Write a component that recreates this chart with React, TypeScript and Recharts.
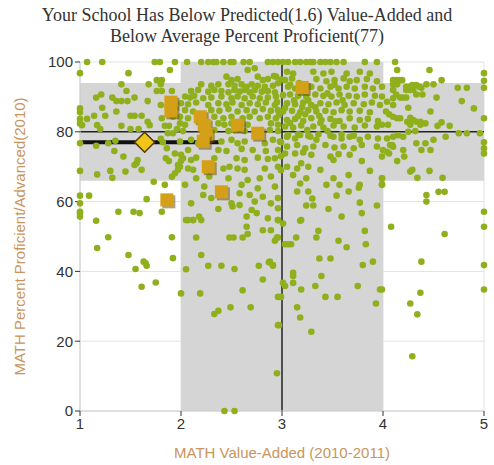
import React from 'react';
import {
  CartesianGrid,
  ReferenceArea,
  ReferenceLine,
  Scatter,
  ScatterChart,
  XAxis,
  YAxis,
} from 'recharts';

// ticks
const xTicks = [1, 2, 3, 4, 5];
const yTicks = [0, 20, 40, 60, 80, 100];

// shaded bands: [x1, x2, y1, y2]
const predictedBand = [1, 5, 66, 94];
const averageBand = [2, 4, 0, 100];

// crosshair (state averages)
const avgValueAdded = 3;
const avgProficient = 80;

// your school
const schoolPoint = [{ x: 1.64, y: 77 }];
const schoolRange = [1.02, 2.38];

// similar schools (orange squares)
const similarSchools = [
  [1.9, 88.5], [1.9, 86], [2.19, 84.3], [2.23, 81.9], [2.25, 79.3], [2.22, 77.3],
  [2.27, 70], [2.4, 62.8], [2.56, 81.9], [2.76, 79.6], [3.2, 92.7], [1.86, 60.5],
];

// all schools
const topRow = [
  [1.07, 100], [1.22, 100], [1.74, 100], [1.79, 100], [1.94, 100], [2.06, 100], [2.2, 100],
  [2.27, 100], [2.32, 100], [2.35, 100], [2.42, 100], [2.49, 100], [2.52, 100], [2.62, 100],
  [2.68, 100], [2.86, 100], [2.91, 100], [2.96, 100], [3.01, 100], [3.06, 100], [3.13, 100],
  [3.18, 100], [3.24, 100], [3.28, 100], [3.31, 100], [3.38, 100], [3.43, 100], [3.48, 100],
  [3.54, 100], [3.61, 100], [3.82, 100], [3.94, 100], [4.12, 100],
];

const leftSchools = [
  [1.0, 96.8], [1.48, 96.8], [1.89, 97.7], [1.76, 94.8], [1.81, 94.8], [1.8, 93.6], [1.41, 93.6],
  [1.68, 93.6], [1.46, 91.7], [1.76, 91.7], [1.81, 91.7], [1.91, 91.7], [1.21, 90.7], [1.16, 89.8],
  [1.32, 89.8], [1.36, 88.8], [1.41, 88.8], [1.47, 88.8], [1.54, 89.8], [1.67, 88.8], [1.8, 87.7],
  [1.22, 86.9], [1.0, 86.7], [1.0, 85.6], [1.36, 85.8], [1.14, 84.6], [1.07, 83.7], [1.25, 84.6],
  [1.5, 84.6], [1.54, 84.6], [1.61, 84.6], [1.0, 83.7], [1.0, 82.4], [1.67, 82.9], [1.69, 81.9],
  [1.81, 83.9], [1.92, 84.3], [1.99, 82.4], [1.02, 81.9], [1.17, 81.9], [1.2, 80.8], [1.41, 81.7],
  [1.5, 80.8], [1.58, 80.8], [1.84, 81.7], [1.88, 81.7], [1.87, 79.6], [1.92, 79.6], [1.96, 80.8],
  [1.0, 76.7], [1.16, 76], [1.28, 76.7], [1.35, 77.4], [1.8, 78], [1.82, 77], [1.86, 75.3],
  [1.94, 73.8], [1.34, 74.5], [1.43, 72.9], [1.57, 71.9], [1.54, 70.5], [1.56, 71], [1.85, 72.4],
  [1.88, 71.6], [2.0, 73.4], [2.0, 71.6], [1.97, 70.5], [1.0, 68.8], [1.17, 67.8], [1.3, 68.8],
  [1.32, 66.8], [1.45, 68.6], [1.61, 69.1], [1.73, 65.7], [1.91, 67.1], [1.94, 68.1], [1.97, 69.1],
  [1.84, 64.8], [1.0, 61.7], [1.09, 61.7], [1.66, 60.7], [1.0, 59.5], [1.0, 57.1], [1.38, 57.1],
  [1.53, 57.1], [1.81, 57.1], [1.0, 56.7], [1.0, 55.7], [1.59, 56.7],
  [1.16, 54.5], [1.17, 46.7], [1.28, 49.8], [1.48, 44.7], [1.55, 40.7], [1.63, 42.8], [1.65, 42.3],
  [1.66, 41.6], [1.61, 35.6], [1.75, 36.8], [1.91, 49.8], [1.92, 43.8],
];

const centerLeftUpper = [
  [2.66, 97.7], [2.73, 98.2], [2.45, 95.8], [2.5, 94.8], [2.56, 95.1], [2.76, 95.8], [2.81, 94.8],
  [2.86, 95.1], [2.94, 95.8], [2.2, 93.6], [2.3, 93.2], [2.37, 93.6], [2.47, 93.6], [2.53, 93.2],
  [2.6, 93.6], [2.65, 92.9], [2.7, 93.6], [2.76, 93.2], [2.83, 92.9], [2.91, 93.2], [2.96, 93.9],
  [2.1, 91.7], [2.17, 92], [2.27, 91.5], [2.33, 92], [2.4, 91.7], [2.47, 91.3], [2.53, 92],
  [2.58, 91.5], [2.63, 92], [2.68, 91.3], [2.73, 92], [2.8, 91.5], [2.86, 91.7], [2.93, 91.3],
  [2.04, 90.1], [2.09, 89.8], [2.13, 90.3], [2.22, 89.6], [2.3, 89.8], [2.4, 90.1], [2.5, 89.6],
  [2.56, 90.1], [2.63, 89.6], [2.71, 90.1], [2.78, 89.6], [2.86, 89.8], [2.94, 90.1],
  [2.0, 88.2], [2.07, 87.9], [2.15, 88.4], [2.27, 87.7], [2.37, 88.2], [2.45, 87.9], [2.51, 88.4],
  [2.6, 87.7], [2.68, 88.2], [2.76, 87.9], [2.84, 88.4], [2.93, 87.7],
  [2.04, 86.2], [2.12, 85.8], [2.3, 86.2], [2.38, 86], [2.47, 86.5], [2.56, 85.8], [2.65, 86.2],
  [2.73, 85.8], [2.81, 86.5], [2.89, 86], [2.96, 86.2],
  [1.99, 84.3], [2.07, 83.9], [2.33, 84.3], [2.42, 83.9], [2.5, 84.3], [2.61, 83.9], [2.68, 84.3],
  [2.78, 83.9], [2.86, 84.3], [2.94, 83.9],
  [2.04, 82], [2.37, 82.4], [2.43, 82], [2.5, 82.4], [2.66, 82], [2.89, 82.4], [2.96, 82],
  [2.02, 80.2], [2.33, 80.5], [2.47, 80.2], [2.53, 80.5], [2.63, 80.2], [2.88, 80.5], [2.96, 80.2],
];

const centerLeftLower = [
  [1.99, 77.2], [2.1, 77.7], [2.17, 76.7], [2.4, 77.2], [2.5, 77.7], [2.56, 76.7], [2.63, 77.2],
  [2.83, 76.7], [2.91, 77.7], [2.98, 77.2],
  [2.07, 74.8], [2.37, 74.8], [2.45, 74.5], [2.6, 75.1], [2.71, 74.8], [2.84, 74.5], [2.96, 74.8],
  [2.02, 72.4], [2.1, 71.9], [2.15, 72.6], [2.33, 72.4], [2.55, 72.4], [2.63, 71.9], [2.76, 72.6],
  [2.86, 72.2], [2.93, 72.4],
  [1.99, 70], [2.07, 69.5], [2.12, 69.1], [2.42, 69.5], [2.48, 70], [2.56, 69.5], [2.63, 69.1],
  [2.83, 69.5], [2.96, 70],
  [2.15, 66.7], [2.28, 67.2], [2.47, 66.7], [2.66, 66.2], [2.78, 66.7], [2.89, 67.2],
  [2.04, 64.8], [2.23, 64.3], [2.6, 64.8], [2.76, 63.8], [2.93, 64.3],
  [2.22, 61.9], [2.3, 61], [2.58, 62.4], [2.68, 61.9], [2.81, 61.4], [2.96, 61],
  [2.1, 59.5], [2.5, 59.5], [2.58, 59], [2.73, 60], [2.89, 59.5],
  [2.37, 57.9], [2.51, 58.6], [2.7, 57.6], [2.96, 58.1],
  [2.07, 54.7], [2.12, 54.7], [2.18, 55.7], [2.65, 55.7], [2.75, 56.7], [2.86, 55.2], [2.96, 54.7],
  [2.99, 77], [2.99, 73], [2.99, 69],
];

const centerRightUpper = [
  [3.05, 97.2], [3.11, 96.7], [3.31, 97.2], [3.41, 96.7], [3.49, 97.2], [3.64, 96.7], [3.77, 97.2],
  [3.87, 96.7],
  [3.03, 94.8], [3.1, 95.3], [3.34, 95.1], [3.44, 94.5], [3.52, 94.8], [3.61, 95.3], [3.67, 94.5],
  [3.74, 94.8], [3.84, 95.1], [3.94, 94.5],
  [3.06, 92.9], [3.13, 92.4], [3.29, 92.9], [3.38, 92.4], [3.48, 92.9], [3.56, 92.4], [3.64, 92.9],
  [3.72, 92.4], [3.82, 92.9], [3.9, 92.4], [3.99, 92.9],
  [3.01, 90.5], [3.08, 90.7], [3.16, 90.3], [3.24, 90.1], [3.33, 90.7], [3.41, 90.3], [3.49, 90.1],
  [3.57, 90.7], [3.66, 90.3], [3.74, 90.1], [3.82, 90.7], [3.92, 90.3], [3.99, 90.1],
  [3.05, 88.2], [3.13, 87.9], [3.21, 88.4], [3.29, 87.7], [3.38, 88.2], [3.46, 87.9], [3.54, 88.4],
  [3.62, 87.7], [3.71, 88.2], [3.81, 87.9], [3.89, 88.4], [3.97, 87.7],
  [3.01, 85.8], [3.1, 86], [3.18, 85.6], [3.26, 86.2], [3.34, 85.8], [3.43, 86], [3.51, 85.6],
  [3.59, 86.2], [3.67, 85.8], [3.77, 86], [3.87, 85.6],
  [3.05, 83.4], [3.13, 83.7], [3.21, 83.1], [3.29, 83.9], [3.39, 83.4], [3.48, 83.7], [3.57, 83.1],
  [3.67, 83.9], [3.77, 83.4], [3.85, 83.7], [3.95, 83.1],
  [3.03, 81.5], [3.11, 81.2], [3.19, 81.8], [3.31, 81.5], [3.41, 81.2], [3.51, 81.8], [3.61, 81.5],
  [3.72, 81.2], [3.82, 81.8], [3.94, 81.5],
  [3.06, 79.1], [3.16, 79.3], [3.26, 78.9], [3.36, 79.3], [3.48, 78.9], [3.59, 79.3], [3.71, 78.9],
  [2.92, 96], [2.99, 95], [3.08, 93.5], [3.17, 94], [3.22, 91.5], [3.27, 93], [3.12, 89],
  [3.2, 87], [3.26, 89], [3.33, 87], [3.16, 84.5], [3.23, 85], [3.37, 84.5], [3.08, 82.5],
  [3.25, 80.5], [3.38, 82.5], [3.45, 80.2], [3.53, 83], [3.45, 91], [3.52, 93.5], [3.6, 89],
  [3.03, 86.8], [2.95, 88.5], [2.97, 84.8],
];

const centerRightLower = [
  [3.05, 78.6], [3.13, 78.1], [3.18, 79.1], [3.28, 78.6], [3.34, 77.7], [3.51, 78.6], [3.59, 78.1],
  [3.67, 78.6], [3.77, 77.7], [3.85, 78.6], [3.95, 78.1],
  [3.05, 75.8], [3.15, 76.2], [3.23, 75.3], [3.31, 75.8], [3.43, 76.2], [3.52, 75.5], [3.61, 75.8],
  [3.71, 75.3], [3.79, 76.2], [3.94, 75.8],
  [3.03, 73.8], [3.13, 73.8], [3.21, 74.1], [3.29, 73.4], [3.48, 72.9], [3.56, 73.6], [3.67, 73.4],
  [3.79, 71.6], [3.87, 68.8], [3.99, 66.7], [3.99, 64.8],
  [3.05, 70], [3.15, 69.5], [3.19, 71], [3.26, 70], [3.38, 69.1], [3.51, 71.9], [3.11, 67.6],
  [3.18, 65.2], [3.24, 66.7], [3.44, 64.8], [3.51, 66.7], [3.57, 64.8], [3.66, 67.6], [3.77, 64.8],
  [3.66, 62.9], [3.54, 61.7], [3.76, 64], [3.15, 62.9], [3.26, 62.9], [3.3, 60.9], [3.24, 58.9],
  [3.31, 58.9], [3.46, 57.9], [3.59, 55.7], [3.77, 59.7], [3.94, 58.9], [3.79, 56.7], [3.19, 54.7],
];

const lowerSchools = [
  [2.05, 54.7], [2.12, 54.7], [2.2, 54.7], [2.15, 49.7], [2.2, 44.7], [2.05, 40.6], [2.0, 33.7],
  [2.19, 33.7], [2.27, 41.6], [2.4, 41.6], [2.53, 40.7], [2.48, 49.7], [2.52, 49.7], [2.61, 49.7],
  [2.66, 50.7], [2.65, 52.8], [2.81, 51.8], [2.89, 51.8], [2.95, 49.7], [2.61, 34.6], [2.49, 29.7],
  [2.69, 29.7], [2.33, 27.8], [2.37, 28.7], [2.77, 41.6], [2.87, 42.6], [2.91, 41.6], [2.81, 37.7],
  [2.96, 32.7], [2.96, 24.6], [2.95, 10.8], [2.43, 0], [2.53, 0],
  [2.96, 54.7], [3.01, 53.7], [3.18, 54.5], [3.36, 51.6], [3.34, 49.7], [3.82, 51.6], [3.83, 47.8],
  [3.56, 48.8], [3.64, 46.9], [3.14, 49.7], [2.93, 48.8], [2.96, 49.7], [3.03, 47.8], [3.06, 47.8],
  [3.09, 47.8], [2.88, 42.8], [2.91, 41.8], [3.37, 43.7], [3.48, 43.7], [3.8, 41.8], [3.9, 42.8],
  [3.11, 39.6], [3.11, 38.7], [3.39, 38.7], [3.01, 36.7], [3.03, 35.8], [3.11, 36.7], [3.19, 34.8],
  [3.33, 35.8], [3.75, 35.8], [2.99, 32.7], [3.43, 32.7], [3.55, 32.7], [3.93, 30.8], [3.15, 29.7],
  [3.18, 26.8], [2.97, 24.6], [3.29, 22.7],
];

const rightSchools = [
  [4.14, 97.7], [4.46, 97.7], [5.0, 96.8], [5.0, 94.6], [5.0, 92.6], [4.58, 94.8], [4.5, 93.6],
  [4.43, 93.6], [4.74, 92.6], [4.83, 92.6], [4.53, 89.8], [4.78, 88.8], [4.9, 86.7], [4.47, 85.8],
  [5.0, 83.9], [4.58, 82.7], [4.54, 81.7], [4.66, 81.7], [4.75, 79.6], [4.83, 79.6], [4.96, 79.6],
  [4.62, 78.6], [4.5, 77.7], [4.42, 76.7], [4.33, 76.7], [4.47, 74.8], [4.38, 74.8], [5.0, 77],
  [5.0, 75.3], [5.0, 73.8], [4.2, 74.8], [4.21, 72.9], [4.14, 71.6], [4.06, 73.8], [4.09, 76.2],
  [4.0, 74.8], [3.99, 72.9], [4.27, 68.6], [4.29, 69.1], [4.46, 68.8], [4.34, 66.8], [4.59, 66.8],
  [3.99, 66.7], [3.99, 65], [4.43, 61.9], [4.43, 60], [4.55, 62.8], [4.61, 62.8], [5.0, 57.1],
  [4.1, 94.8], [4.13, 94.8], [4.16, 94.8], [4.19, 94.8], [4.1, 93.6], [4.14, 93.6], [4.23, 92.9],
  [4.26, 92.9], [4.29, 93.4], [4.33, 93.4], [4.36, 92.9], [4.23, 92], [4.26, 92], [4.3, 92],
  [4.38, 92.6], [4.1, 92], [4.13, 90.7], [4.1, 89.6], [4.17, 89.8], [4.2, 89.8], [4.23, 89.8],
  [4.33, 90.7], [4.39, 90.7], [4.04, 88.6], [4.1, 87.7], [4.25, 86.9], [4.03, 85.8], [4.06, 85],
  [4.1, 84.3], [4.14, 83.9], [4.17, 83.9], [4.27, 84], [4.3, 83.4], [4.24, 82.9], [4.27, 82],
  [4.33, 82.9], [4.37, 82.9], [4.37, 82], [4.42, 82.4], [3.99, 82], [4.05, 82], [4.32, 80.2],
  [4.25, 80], [4.15, 79], [4.2, 78.6], [4.1, 78.6], [4.04, 78.1], [4.07, 76.2], [4.1, 75.7],
  [4.04, 74.3],
  [4.08, 52.8], [4.61, 50.7], [5.0, 52.8], [5.0, 41.8], [5.0, 34.8], [4.38, 42.8], [4.37, 33.9],
  [4.27, 30.8], [4.34, 27.7], [4.29, 15.7], [3.99, 34.8], [3.97, 34.8],
];

const toPoints = (rows: number[][]) => rows.map(([x, y]) => ({ x, y }));

const allSchools = toPoints([
  ...topRow,
  ...leftSchools,
  ...centerLeftUpper,
  ...centerLeftLower,
  ...centerRightUpper,
  ...centerRightLower,
  ...lowerSchools,
  ...rightSchools,
]);

const GREEN = '#8fb01c';
const BAND = '#d5d5d5';
const LABEL = '#c9955c';

const Dot = (props: any) => <circle cx={props.cx} cy={props.cy} r={3.3} fill={GREEN} />;

const Square = (props: any) => {
  const s = 13;
  return (
    <g>
      <rect x={props.cx - s / 2 + 2} y={props.cy - s / 2 + 2} width={s} height={s} fill="#6b5410" opacity={0.55} />
      <rect x={props.cx - s / 2} y={props.cy - s / 2} width={s} height={s} fill="#d4a017" />
    </g>
  );
};

const Diamond = (props: any) => {
  const { cx, cy } = props;
  const r = 10;
  return (
    <polygon
      points={`${cx},${cy - r} ${cx + r},${cy} ${cx},${cy + r} ${cx - r},${cy}`}
      fill="#f1c419"
      stroke="#4a3c05"
      strokeWidth={1.5}
    />
  );
};

export default function App() {
  return (
    <div style={{ position: 'absolute', left: 0, top: 0, width: 494, height: 465, background: '#fff' }}>
      <div
        style={{
          position: 'absolute',
          left: 0,
          top: 5,
          width: 494,
          textAlign: 'center',
          fontFamily: '"Liberation Serif", "Times New Roman", serif',
          fontSize: 18,
          lineHeight: '21px',
          color: '#333',
        }}
      >
        Your School Has Below Predicted(1.6) Value-Added and
        <br />
        Below Average Percent Proficient(77)
      </div>
      <ScatterChart
        width={494}
        height={465}
        margin={{ top: 62, right: 10, bottom: 4, left: 10 }}
        style={{ fontFamily: '"Liberation Sans", Arial, sans-serif' }}
      >
        <CartesianGrid stroke="#e2e2e2" />
        <XAxis
          type="number"
          dataKey="x"
          domain={[1, 5]}
          ticks={xTicks}
          height={50}
          tick={{ fill: '#333', fontSize: 15 }}
          tickLine={{ stroke: '#333' }}
          axisLine={{ stroke: '#ccc' }}
          tickSize={5}
          label={{ value: 'MATH Value-Added (2010-2011)', position: 'insideBottom', offset: 3, fill: LABEL, fontSize: 15 }}
        />
        <YAxis
          type="number"
          dataKey="y"
          domain={[0, 100]}
          ticks={yTicks}
          width={70}
          tick={{ fill: '#333', fontSize: 15 }}
          tickLine={{ stroke: '#333' }}
          axisLine={{ stroke: '#ccc' }}
          tickSize={5}
          label={{
            value: 'MATH Percent Proficient/Advanced(2010)',
            angle: -90,
            position: 'insideLeft',
            offset: 10,
            fill: LABEL,
            fontSize: 15,
            style: { textAnchor: 'middle' },
          }}
        />
        <ReferenceArea
          x1={predictedBand[0]}
          x2={predictedBand[1]}
          y1={predictedBand[2]}
          y2={predictedBand[3]}
          fill={BAND}
          fillOpacity={1}
          stroke="none"
        />
        <ReferenceArea
          x1={averageBand[0]}
          x2={averageBand[1]}
          y1={averageBand[2]}
          y2={averageBand[3]}
          fill={BAND}
          fillOpacity={1}
          stroke="none"
        />
        <Scatter data={allSchools} shape={Dot} isAnimationActive={false} />
        <Scatter data={toPoints(similarSchools)} shape={Square} isAnimationActive={false} />
        <ReferenceLine x={avgValueAdded} stroke="#222" strokeWidth={1.5} />
        <ReferenceLine y={avgProficient} stroke="#222" strokeWidth={1.5} />
        <ReferenceLine
          segment={[
            { x: schoolRange[0], y: schoolPoint[0].y },
            { x: schoolRange[1], y: schoolPoint[0].y },
          ]}
          stroke="#111"
          strokeWidth={4}
        />
        <Scatter data={schoolPoint} shape={Diamond} isAnimationActive={false} />
      </ScatterChart>
    </div>
  );
}
